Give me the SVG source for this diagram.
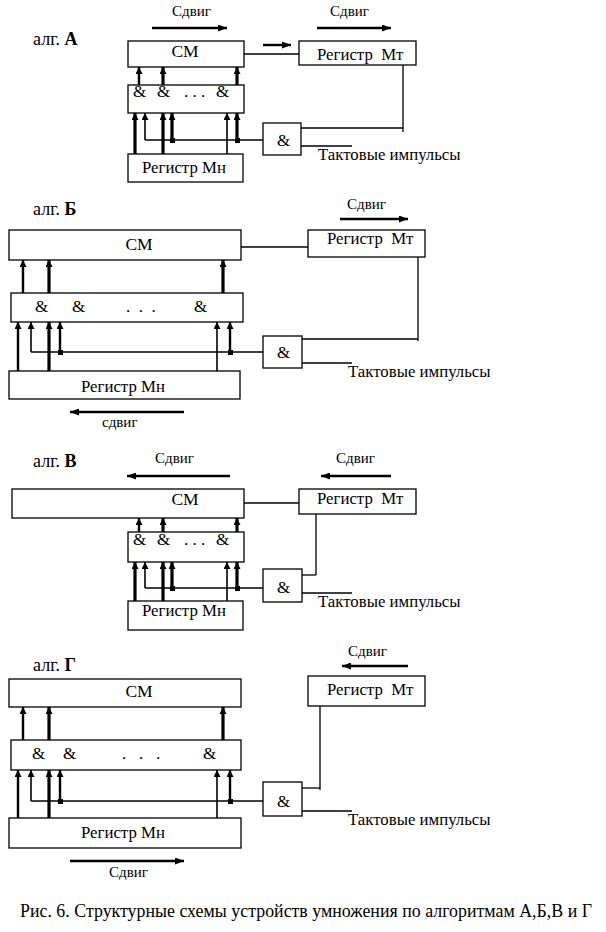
<svg xmlns="http://www.w3.org/2000/svg" width="606" height="932" viewBox="0 0 606 932" font-family="'Liberation Serif', 'DejaVu Serif', serif">
<style>
text{font-family:'Liberation Serif','DejaVu Serif',serif;fill:#000}
.box{fill:#fff;stroke:#000;stroke-width:1.3}
.t{font-size:16.8px}
.lab{font-size:18px}
.cap{font-size:18px}
.cm{font-size:17.5px;text-anchor:middle}
.amp{font-size:17px}
.sh{font-size:15px}
.w{stroke:#000;stroke-width:1.3;fill:none}
.a1{stroke:#000;stroke-width:1.6;fill:none;marker-end:url(#ah)}
.a2{stroke:#000;stroke-width:2.4;fill:none;marker-end:url(#ah)}
.a3{stroke:#000;stroke-width:3.2;fill:none;marker-end:url(#ah)}
.sa{stroke:#000;stroke-width:2.4;fill:none;marker-end:url(#bh)}
.dot{fill:#000}
</style>
<defs>
<marker id="ah" markerUnits="userSpaceOnUse" viewBox="0 0 7 7" markerWidth="7" markerHeight="7" refX="7" refY="3.5" orient="auto"><path d="M0,0 L7,3.5 L0,7 z" fill="#000"/></marker>
<marker id="bh" markerUnits="userSpaceOnUse" viewBox="0 0 9 7" markerWidth="9" markerHeight="7" refX="9" refY="3.5" orient="auto"><path d="M0,0 L9,3.5 L0,7 z" fill="#000"/></marker>
</defs>

<!-- ===== Algorithm A ===== -->
<g id="A-label"><text class="lab" x="33" y="45">алг. <tspan font-weight="bold">А</tspan></text></g>
<g id="A-shift-cm"><text class="sh" x="172" y="16">Сдвиг</text></g>
<g id="A-shift-mt"><text class="sh" x="330" y="16">Сдвиг</text></g>
<g id="A-cm"><rect class="box" x="128" y="41" width="116" height="26"/><text class="cm" x="185" y="57">СМ</text></g>
<g id="A-mt"><rect class="box" x="299" y="41" width="117" height="24"/><text class="t" x="317" y="60" xml:space="preserve">Регистр  Мт</text></g>
<g id="A-and"><rect class="box" x="128" y="85" width="116" height="28"/><text class="amp" x="133" y="97">&amp;</text><text class="amp" x="157" y="97">&amp;</text><text class="amp" x="184" y="97">. . .</text><text class="amp" x="216" y="97">&amp;</text></g>
<g id="A-mn"><rect class="box" x="128" y="154" width="115" height="28"/><text class="t" x="142" y="173">Регистр Мн</text></g>
<g id="A-gate"><rect class="box" x="263" y="123" width="38" height="32"/><text class="amp" x="277" y="146">&amp;</text></g>
<g id="A-clk"><text class="t" x="318" y="160">Тактовые импульсы</text></g>

<!-- ===== Algorithm B ===== -->
<g id="B-label"><text class="lab" x="33" y="215">алг. <tspan font-weight="bold">Б</tspan></text></g>
<g id="B-shift-mt"><text class="sh" x="347" y="209">Сдвиг</text></g>
<g id="B-cm"><rect class="box" x="9" y="230" width="232" height="30"/><text class="cm" x="139" y="250">СМ</text></g>
<g id="B-mt"><rect class="box" x="308" y="230" width="117" height="27"/><text class="t" x="327" y="244" xml:space="preserve">Регистр  Мт</text></g>
<g id="B-and"><rect class="box" x="11" y="293" width="232" height="29"/><text class="amp" x="35" y="312">&amp;</text><text class="amp" x="72" y="312">&amp;</text><text class="amp" x="126" y="312" xml:space="preserve">.  .  .</text><text class="amp" x="194" y="312">&amp;</text></g>
<g id="B-mn"><rect class="box" x="9" y="371" width="231" height="28"/><text class="t" x="81" y="392">Регистр Мн</text></g>
<g id="B-gate"><rect class="box" x="263" y="336" width="39" height="32"/><text class="amp" x="277" y="358">&amp;</text></g>
<g id="B-clk"><text class="t" x="348" y="377">Тактовые импульсы</text></g>
<g id="B-shift-mn"><text class="sh" x="102" y="427">сдвиг</text></g>

<!-- ===== Algorithm V ===== -->
<g id="V-label"><text class="lab" x="33" y="467">алг. <tspan font-weight="bold">В</tspan></text></g>
<g id="V-shift-cm"><text class="sh" x="155" y="463">Сдвиг</text></g>
<g id="V-shift-mt"><text class="sh" x="336" y="463">Сдвиг</text></g>
<g id="V-cm"><rect class="box" x="12" y="489" width="232" height="29"/><text class="cm" x="185" y="505">СМ</text></g>
<g id="V-mt"><rect class="box" x="299" y="489" width="117" height="25"/><text class="t" x="317" y="504" xml:space="preserve">Регистр  Мт</text></g>
<g id="V-and"><rect class="box" x="128" y="532" width="116" height="30"/><text class="amp" x="133" y="545">&amp;</text><text class="amp" x="157" y="545">&amp;</text><text class="amp" x="184" y="545">. . .</text><text class="amp" x="216" y="545">&amp;</text></g>
<g id="V-mn"><rect class="box" x="128" y="601" width="115" height="29"/><text class="t" x="142" y="616">Регистр Мн</text></g>
<g id="V-gate"><rect class="box" x="263" y="569" width="39" height="33"/><text class="amp" x="277" y="593">&amp;</text></g>
<g id="V-clk"><text class="t" x="318" y="607">Тактовые импульсы</text></g>

<!-- ===== Algorithm G ===== -->
<g id="G-label"><text class="lab" x="33" y="671">алг. <tspan font-weight="bold">Г</tspan></text></g>
<g id="G-shift-mt"><text class="sh" x="348" y="656">Сдвиг</text></g>
<g id="G-cm"><rect class="box" x="9" y="679" width="232" height="28"/><text class="cm" x="139" y="697">СМ</text></g>
<g id="G-mt"><rect class="box" x="308" y="676" width="117" height="30"/><text class="t" x="327" y="695" xml:space="preserve">Регистр  Мт</text></g>
<g id="G-and"><rect class="box" x="11" y="740" width="230" height="30"/><text class="amp" x="32" y="759">&amp;</text><text class="amp" x="63" y="759">&amp;</text><text class="amp" x="122" y="759" xml:space="preserve">.   .   .</text><text class="amp" x="203" y="759">&amp;</text></g>
<g id="G-mn"><rect class="box" x="9" y="818" width="232" height="30"/><text class="t" x="81" y="838">Регистр Мн</text></g>
<g id="G-gate"><rect class="box" x="263" y="782" width="39" height="34"/><text class="amp" x="277" y="807">&amp;</text></g>
<g id="G-clk"><text class="t" x="348" y="825">Тактовые импульсы</text></g>
<g id="G-shift-mn"><text class="sh" x="109" y="877">Сдвиг</text></g>

<g id="caption"><text class="cap" x="20" y="917" textLength="572" lengthAdjust="spacingAndGlyphs">Рис. 6. Структурные схемы устройств умножения по алгоритмам А,Б,В и Г</text></g>

<g id="connectors">
<!-- A -->
<line class="sa" x1="152" y1="28" x2="227" y2="28"/>
<line class="sa" x1="317" y1="28" x2="391" y2="28"/>
<line class="sa" x1="263" y1="45" x2="291" y2="45"/>
<line class="w" x1="244" y1="54" x2="299" y2="54"/>
<line class="a2" x1="139" y1="85" x2="139" y2="67"/>
<line class="a3" x1="163" y1="85" x2="163" y2="67"/>
<line class="a3" x1="237" y1="85" x2="237" y2="67"/>
<line class="a3" x1="135" y1="154" x2="135" y2="113"/>
<line class="a1" x1="145" y1="140" x2="145" y2="113"/>
<line class="a3" x1="163" y1="154" x2="163" y2="113"/>
<line class="a3" x1="172" y1="140" x2="172" y2="113"/>
<line class="a1" x1="227" y1="154" x2="227" y2="113"/>
<line class="a3" x1="237" y1="140" x2="237" y2="113"/>
<line class="w" x1="145" y1="140" x2="263" y2="140"/>
<rect class="dot" x="170" y="138" width="5" height="5"/>
<rect class="dot" x="235" y="138" width="5" height="5"/>
<line class="w" x1="301" y1="128" x2="403" y2="128"/>
<line class="w" x1="403" y1="65" x2="403" y2="132"/>
<line class="w" x1="301" y1="146" x2="352" y2="146"/>
<!-- B -->
<line class="sa" x1="340" y1="219" x2="408" y2="219"/>
<line class="w" x1="241" y1="247" x2="308" y2="247"/>
<line class="a2" x1="23" y1="293" x2="23" y2="260"/>
<line class="a3" x1="49" y1="293" x2="49" y2="260"/>
<line class="a3" x1="223" y1="293" x2="223" y2="260"/>
<line class="a2" x1="18" y1="371" x2="18" y2="322"/>
<line class="a1" x1="31" y1="352" x2="31" y2="322"/>
<line class="a3" x1="49" y1="371" x2="49" y2="322"/>
<line class="a2" x1="60" y1="352" x2="60" y2="322"/>
<line class="a1" x1="217" y1="371" x2="217" y2="322"/>
<line class="a2" x1="230" y1="352" x2="230" y2="322"/>
<line class="w" x1="31" y1="352" x2="263" y2="352"/>
<rect class="dot" x="58" y="350" width="5" height="5"/>
<rect class="dot" x="228" y="350" width="5" height="5"/>
<line class="w" x1="302" y1="339" x2="418" y2="339"/>
<line class="w" x1="418" y1="257" x2="418" y2="341"/>
<line class="w" x1="302" y1="363" x2="352" y2="363"/>
<line class="sa" x1="184" y1="412" x2="70" y2="412"/>
<!-- V -->
<line class="sa" x1="230" y1="476" x2="127" y2="476"/>
<line class="sa" x1="391" y1="476" x2="321" y2="476"/>
<line class="w" x1="244" y1="503" x2="299" y2="503"/>
<line class="a2" x1="139" y1="532" x2="139" y2="518"/>
<line class="a3" x1="163" y1="532" x2="163" y2="518"/>
<line class="a3" x1="237" y1="532" x2="237" y2="518"/>
<line class="a3" x1="135" y1="601" x2="135" y2="562"/>
<line class="a1" x1="145" y1="588" x2="145" y2="562"/>
<line class="a3" x1="163" y1="601" x2="163" y2="562"/>
<line class="a3" x1="172" y1="588" x2="172" y2="562"/>
<line class="a1" x1="227" y1="601" x2="227" y2="562"/>
<line class="a3" x1="237" y1="588" x2="237" y2="562"/>
<line class="w" x1="145" y1="588" x2="263" y2="588"/>
<rect class="dot" x="170" y="586" width="5" height="5"/>
<rect class="dot" x="235" y="586" width="5" height="5"/>
<line class="w" x1="302" y1="575" x2="316" y2="575"/>
<line class="w" x1="316" y1="514" x2="316" y2="575"/>
<line class="w" x1="302" y1="593" x2="352" y2="593"/>
<!-- G -->
<line class="sa" x1="408" y1="666" x2="342" y2="666"/>
<line class="a2" x1="23" y1="740" x2="23" y2="707"/>
<line class="a3" x1="49" y1="740" x2="49" y2="707"/>
<line class="a3" x1="223" y1="740" x2="223" y2="707"/>
<line class="a2" x1="18" y1="818" x2="18" y2="770"/>
<line class="a1" x1="31" y1="801" x2="31" y2="770"/>
<line class="a3" x1="49" y1="818" x2="49" y2="770"/>
<line class="a2" x1="60" y1="801" x2="60" y2="770"/>
<line class="a1" x1="217" y1="818" x2="217" y2="770"/>
<line class="a2" x1="230" y1="801" x2="230" y2="770"/>
<line class="w" x1="31" y1="801" x2="263" y2="801"/>
<rect class="dot" x="58" y="799" width="5" height="5"/>
<rect class="dot" x="228" y="799" width="5" height="5"/>
<line class="w" x1="302" y1="788" x2="320" y2="788"/>
<line class="w" x1="320" y1="706" x2="320" y2="790"/>
<line class="w" x1="302" y1="811" x2="352" y2="811"/>
<line class="sa" x1="70" y1="861" x2="184" y2="861"/>
</g>
</svg>
